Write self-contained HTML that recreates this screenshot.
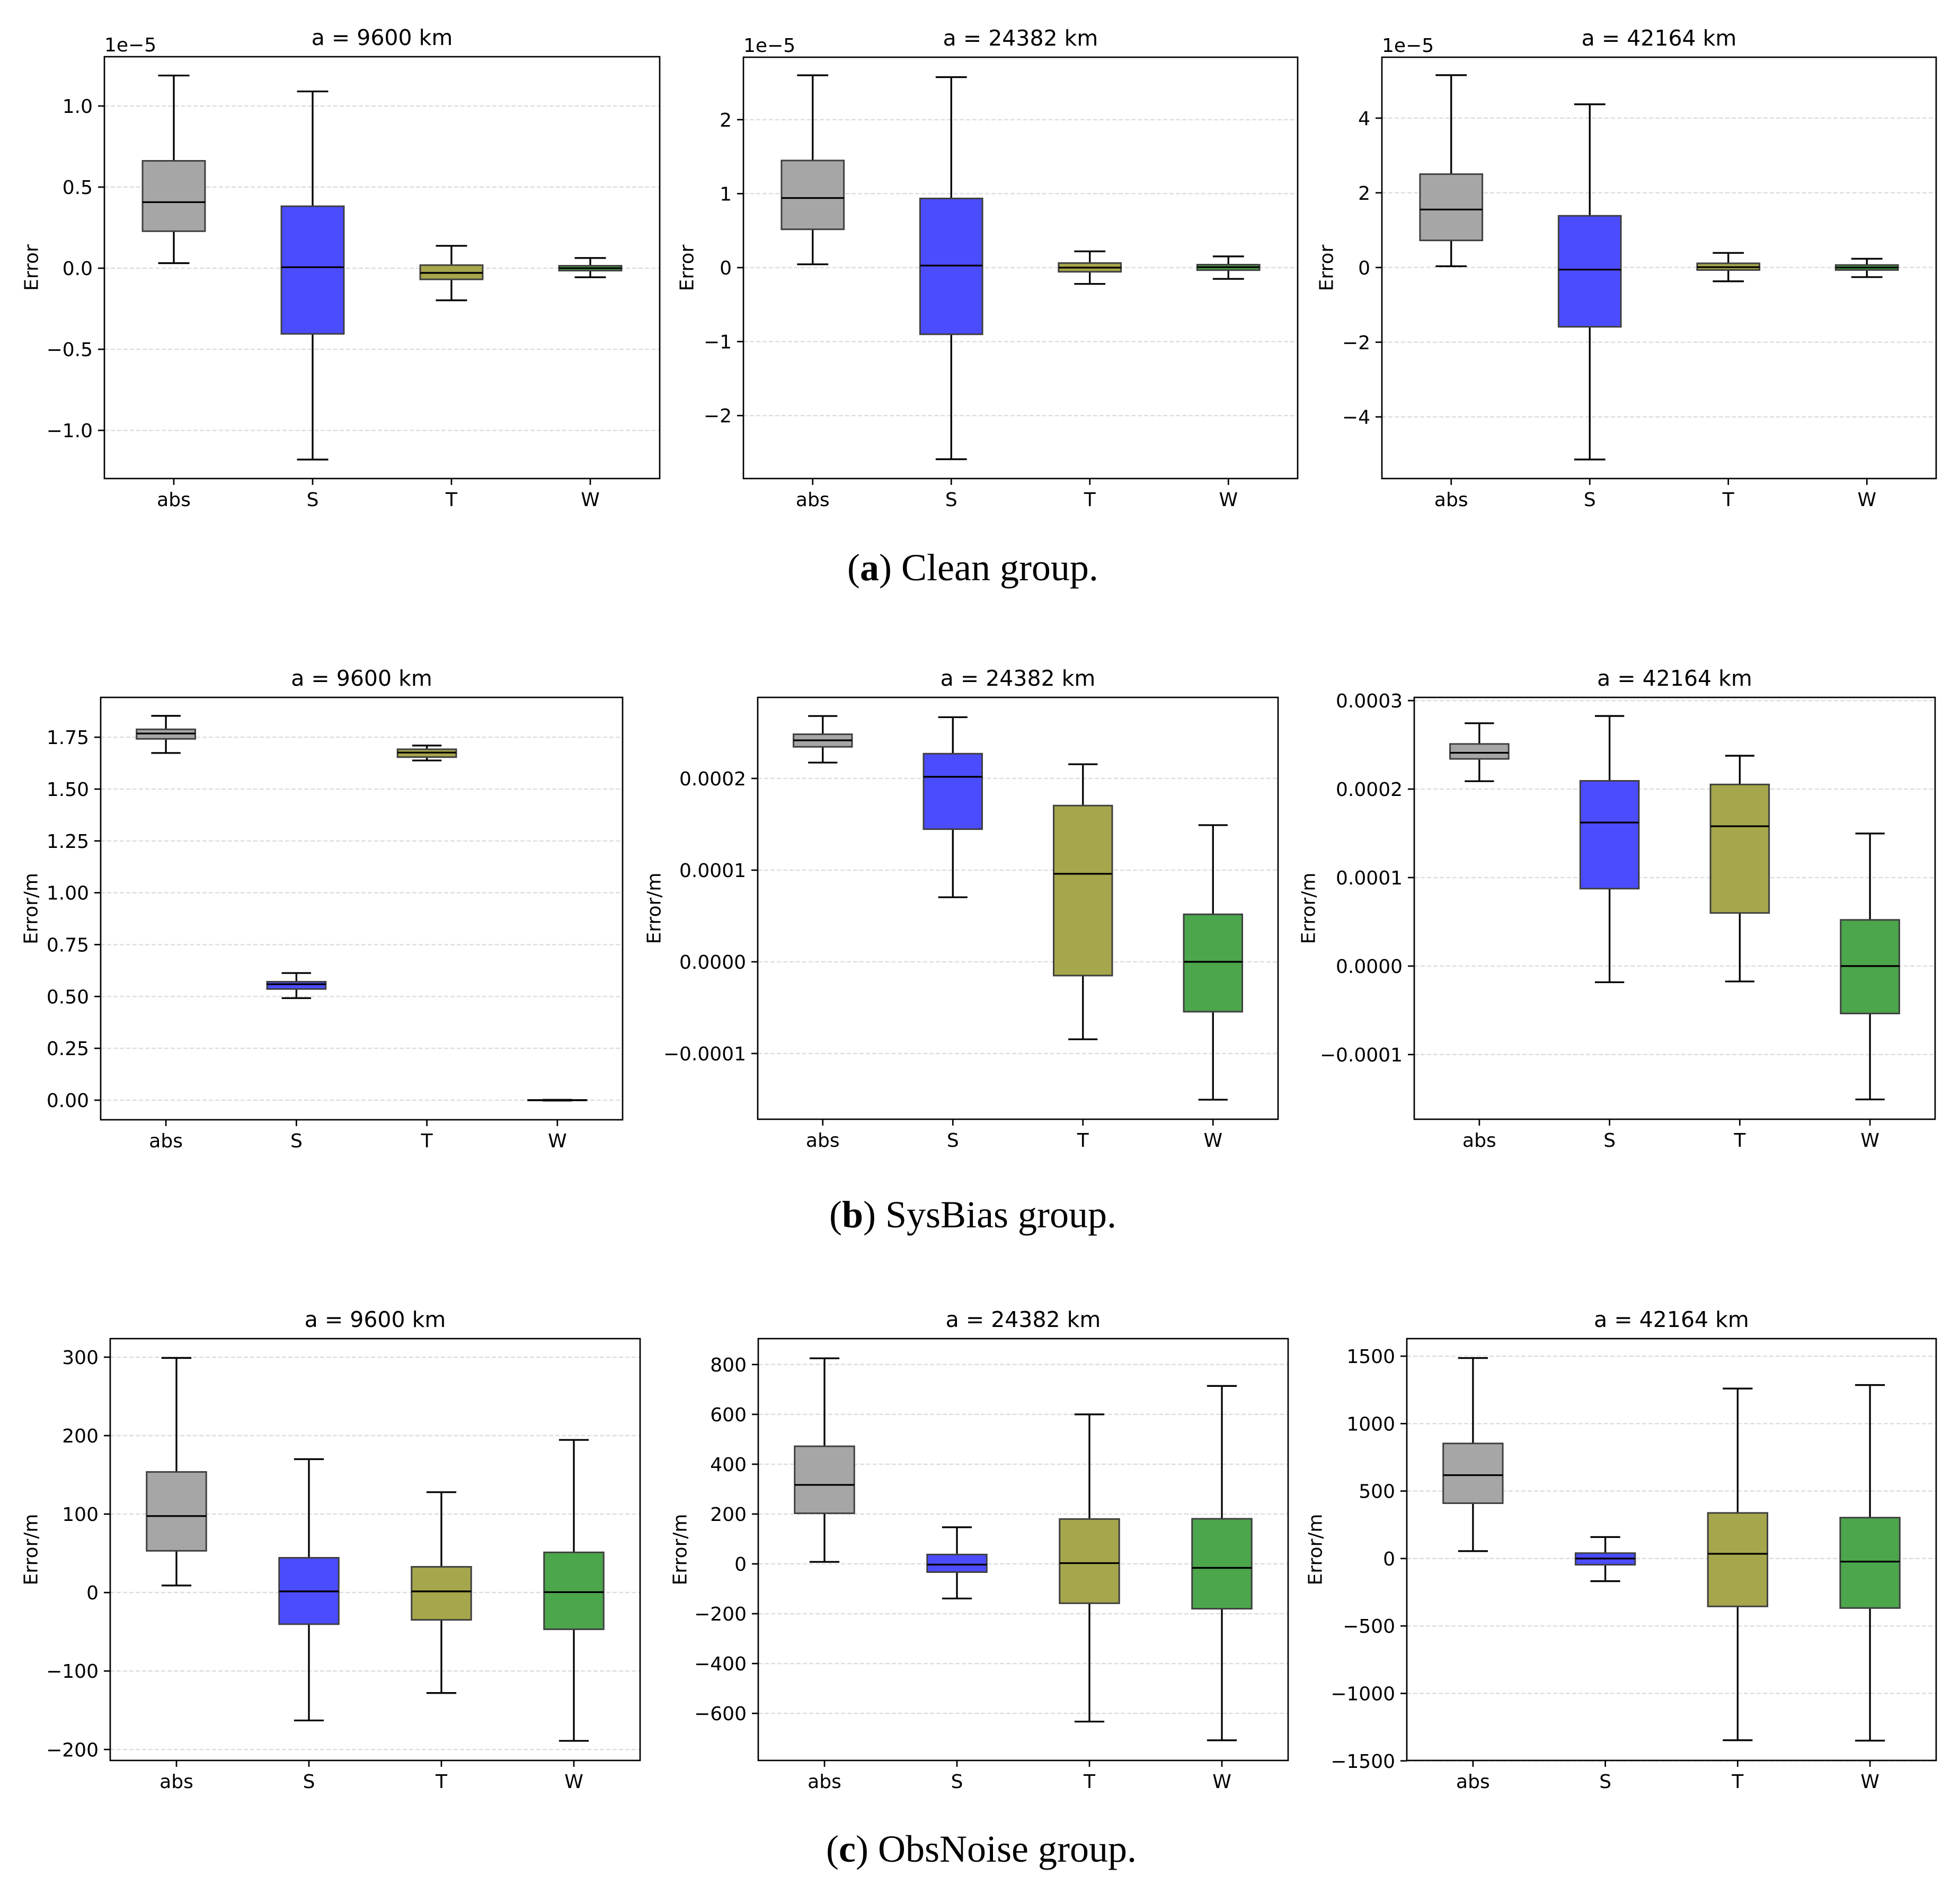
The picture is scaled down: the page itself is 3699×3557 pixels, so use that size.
<!DOCTYPE html>
<html><head><meta charset="utf-8">
<style>
html,body{margin:0;padding:0;background:#fff;}
svg{display:block;}
text{font-family:"DejaVu Sans","Liberation Sans",sans-serif;}
.cap{font-family:"Liberation Serif",serif;}
</style></head>
<body>
<svg id="fig" width="3699" height="3557" viewBox="0 0 3699 3557" xmlns="http://www.w3.org/2000/svg">
<rect width="3699" height="3557" fill="#fff"/>
<text class="cap" x="1836" y="1095" font-size="72" text-anchor="middle">(<tspan font-weight="bold">a</tspan>) Clean group.</text>
<text class="cap" x="1836" y="2316" font-size="72" text-anchor="middle">(<tspan font-weight="bold">b</tspan>) SysBias group.</text>
<text class="cap" x="1852" y="3513" font-size="72" text-anchor="middle">(<tspan font-weight="bold">c</tspan>) ObsNoise group.</text>
</svg>
<script>
// categories
const categories = ["abs","S","T","W"];
const fills = ["#a6a6a6","#4c4cff","#a6a64c","#4ca64c"];
// Each series: [low whisker, q1, median, q3, high whisker] per category
// Clean group (units 1e-5)
const clean9600 = [[0.031,0.228,0.407,0.662,1.188],[-1.18,-0.405,0.006,0.382,1.09],[-0.198,-0.069,-0.029,0.019,0.138],[-0.056,-0.015,0,0.015,0.063]];
const clean24382 = [[0.045,0.518,0.941,1.448,2.60],[-2.59,-0.901,0.028,0.935,2.575],[-0.22,-0.056,0,0.062,0.22],[-0.152,-0.034,0.006,0.04,0.152]];
const clean42164 = [[0.034,0.726,1.553,2.50,5.15],[-5.14,-1.587,-0.056,1.385,4.37],[-0.369,-0.067,0.01,0.112,0.391],[-0.257,-0.067,0,0.067,0.235]];
// SysBias group (b2,b3 in units 1e-4)
const sys9600 = [[1.674,1.742,1.768,1.788,1.853],[0.492,0.536,0.559,0.571,0.613],[1.638,1.654,1.676,1.692,1.71],[-0.002,-0.001,0,0.001,0.002]];
const sys24382 = [[2.173,2.345,2.416,2.482,2.681],[0.704,1.447,2.018,2.27,2.668],[-0.845,-0.15,0.96,1.704,2.155],[-1.504,-0.544,0,0.518,1.491]];
const sys42164 = [[2.089,2.341,2.41,2.51,2.744],[-0.183,0.875,1.622,2.093,2.826],[-0.174,0.6,1.58,2.052,2.377],[-1.507,-0.536,0,0.522,1.498]];
// ObsNoise group (m)
const obs9600 = [[9,53.2,97.5,153.7,299],[-163,-40.3,1.5,44.3,170],[-128,-34.8,1.5,32.8,127.9],[-189,-46.8,0.5,51.2,194.5]];
const obs24382 = [[8,203,317,472,825],[-139,-33,-3,37.5,147],[-633,-158,3,180,600],[-708,-180,-16,181,714]];
const obs42164 = [[55,410,618,853,1486],[-168,-46,0,40,159],[-1347,-355,35,338,1260],[-1350,-367,-23,303,1286]];
// tick values & labels
const tickA1 = [1,0.5,0,-0.5,-1]; const labA1 = ["1.0","0.5","0.0","\u22120.5","\u22121.0"];
const tickA2 = [2,1,0,-1,-2]; const labA2 = ["2","1","0","\u22121","\u22122"];
const tickA3 = [4,2,0,-2,-4]; const labA3 = ["4","2","0","\u22122","\u22124"];
const tickB1 = [1.75,1.5,1.25,1,0.75,0.5,0.25,0]; const labB1 = ["1.75","1.50","1.25","1.00","0.75","0.50","0.25","0.00"];
const tickB2 = [2,1,0,-1]; const labB2 = ["0.0002","0.0001","0.0000","\u22120.0001"];
const tickB3 = [3,2,1,0,-1]; const labB3 = ["0.0003","0.0002","0.0001","0.0000","\u22120.0001"];
const tickC1 = [300,200,100,0,-100,-200]; const labC1 = ["300","200","100","0","\u2212100","\u2212200"];
const tickC2 = [800,600,400,200,0,-200,-400,-600]; const labC2 = ["800","600","400","200","0","\u2212200","\u2212400","\u2212600"];
const tickC3 = [1500,1000,500,0,-500,-1000,-1500]; const labC3 = ["1500","1000","500","0","\u2212500","\u22121000","\u22121500"];

const panels = [
 {id:"clean-9600",t:"a = 9600 km",L:197,R:1245,T:107,B:903,y0:-1.297,y1:1.304,d:clean9600,tk:tickA1,lb:labA1,yl:"Error",ylx:60,off:"1e\u22125"},
 {id:"clean-24382",t:"a = 24382 km",L:1403,R:2449,T:108,B:903,y0:-2.851,y1:2.844,d:clean24382,tk:tickA2,lb:labA2,yl:"Error",ylx:1297,off:"1e\u22125"},
 {id:"clean-42164",t:"a = 42164 km",L:2608,R:3654,T:108,B:903,y0:-5.65,y1:5.63,d:clean42164,tk:tickA3,lb:labA3,yl:"Error",ylx:2504,off:"1e\u22125"},
 {id:"sysbias-9600",t:"a = 9600 km",L:190,R:1175,T:1316,B:2113,y0:-0.0945,y1:1.942,d:sys9600,tk:tickB1,lb:labB1,yl:"Error/m",ylx:59},
 {id:"sysbias-24382",t:"a = 24382 km",L:1430,R:2412,T:1316,B:2112,y0:-1.717,y1:2.884,d:sys24382,tk:tickB2,lb:labB2,yl:"Error/m",ylx:1235},
 {id:"sysbias-42164",t:"a = 42164 km",L:2669,R:3652,T:1316,B:2112,y0:-1.731,y1:3.036,d:sys42164,tk:tickB3,lb:labB3,yl:"Error/m",ylx:2470},
 {id:"obsnoise-9600",t:"a = 9600 km",L:208,R:1208,T:2526,B:3322,y0:-214,y1:323.6,d:obs9600,tk:tickC1,lb:labC1,yl:"Error/m",ylx:59},
 {id:"obsnoise-24382",t:"a = 24382 km",L:1431,R:2431,T:2526,B:3322,y0:-789,y1:904,d:obs24382,tk:tickC2,lb:labC2,yl:"Error/m",ylx:1284},
 {id:"obsnoise-42164",t:"a = 42164 km",L:2655,R:3654,T:2526,B:3322,y0:-1497,y1:1630,d:obs42164,tk:tickC3,lb:labC3,yl:"Error/m",ylx:2483}
];
const NS="http://www.w3.org/2000/svg";
const svg=document.getElementById('fig');
function mk(tag,attrs,parent){const e=document.createElementNS(NS,tag);for(const k in attrs)e.setAttribute(k,attrs[k]);(parent||svg).appendChild(e);return e;}
panels.forEach(p=>{
  const g=mk('g',{});
  
  
  const ys=v=>p.B-(v-p.y0)/(p.y1-p.y0)*(p.B-p.T);
  const xs=i=>p.L+(i+0.5)/categories.length*(p.R-p.L);
  const bw=0.45/categories.length*(p.R-p.L);
  p.tk.forEach((v,i)=>{
    const y=ys(v);
    const gl=mk('line',{x1:p.L,x2:p.R,y1:y,y2:y,stroke:'#dedede','stroke-width':2.5,'stroke-dasharray':'8,4'},g);
    
    
    const tm=mk('line',{x1:p.L-12,x2:p.L,y1:y,y2:y,stroke:'#000','stroke-width':2.7},g);
    
    
    const tl=mk('text',{x:p.L-22,y:y+13,'font-size':36,'text-anchor':'end',fill:'#000'},g);
    tl.textContent=p.lb[i];
    
    
  });
  p.d.forEach((s,i)=>{
    const x=xs(i);
    const bg=mk('g',{},g);
    
    
    mk('line',{x1:x,x2:x,y1:ys(s[3]),y2:ys(s[4]),stroke:'#000','stroke-width':3.3},bg);
    mk('line',{x1:x,x2:x,y1:ys(s[1]),y2:ys(s[0]),stroke:'#000','stroke-width':3.3},bg);
    mk('line',{x1:x-bw/4,x2:x+bw/4,y1:ys(s[4]),y2:ys(s[4]),stroke:'#000','stroke-width':3.3},bg);
    mk('line',{x1:x-bw/4,x2:x+bw/4,y1:ys(s[0]),y2:ys(s[0]),stroke:'#000','stroke-width':3.3},bg);
    mk('rect',{x:x-bw/2,y:ys(s[3]),width:bw,height:Math.max(0.5,ys(s[1])-ys(s[3])),fill:fills[i],stroke:'#404040','stroke-width':3},bg);
    mk('line',{x1:x-bw/2,x2:x+bw/2,y1:ys(s[2]),y2:ys(s[2]),stroke:'#000','stroke-width':3.3},bg);
    const xt=mk('line',{x1:x,x2:x,y1:p.B,y2:p.B+12,stroke:'#000','stroke-width':2.7},g);
    
    
    const xl=mk('text',{x:x,y:p.B+52,'font-size':36,'text-anchor':'middle',fill:'#000'},g);
    xl.textContent=categories[i];
    
    
  });
  const fr=mk('rect',{x:p.L,y:p.T,width:p.R-p.L,height:p.B-p.T,fill:'none',stroke:'#000','stroke-width':2.7},g);
  
  
  const tt=mk('text',{x:(p.L+p.R)/2,y:p.T-22,'font-size':41,'text-anchor':'middle',fill:'#000'},g);
  tt.textContent=p.t;
  
  
  const cy=(p.T+p.B)/2;
  const yl=mk('text',{x:p.ylx,y:cy,'font-size':36,'text-anchor':'middle','dominant-baseline':'central',transform:'rotate(-90 '+p.ylx+' '+cy+')',fill:'#000'},g);
  yl.textContent=p.yl;
  
  
  if(p.off){
    const o=mk('text',{x:p.L,y:p.T-10,'font-size':36,fill:'#000'},g);
    o.textContent=p.off;
    
    
  }
});
</script>
</body></html>
